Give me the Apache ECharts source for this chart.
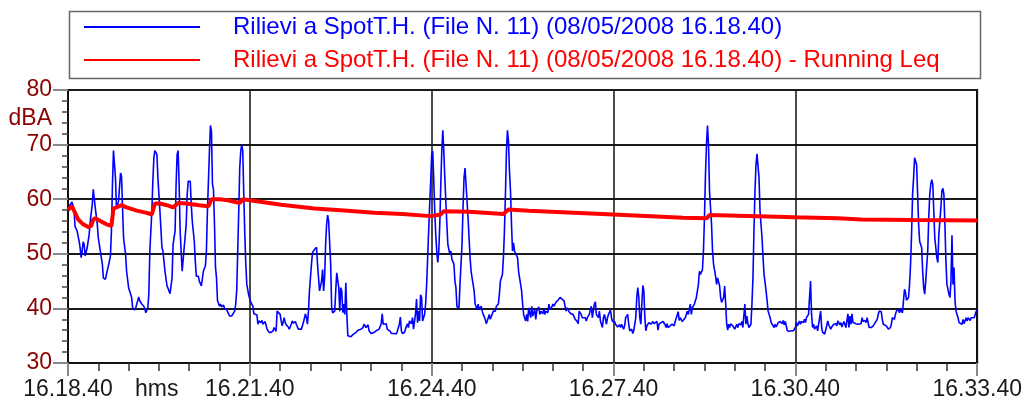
<!DOCTYPE html>
<html>
<head>
<meta charset="utf-8">
<title>Rilievi a SpotT.H.</title>
<script src="https://cdn.jsdelivr.net/npm/echarts@6/dist/echarts.min.js"></script>
<style>
  html, body { margin: 0; padding: 0; background: #fff; }
  #chart { width: 1025px; height: 403px; }
</style>
</head>
<body>
<div id="chart"></div>
<script>
// seconds after 16.18.40
const levelSec = [
  0, 4, 6, 7, 9, 11, 12, 13, 14, 15, 16, 17, 18, 19, 21, 22, 24, 25, 26, 27, 29, 30, 32, 34, 35, 37, 38, 40, 42, 43,
  44, 45, 46, 47, 48, 49, 50, 52, 53, 54, 55, 57, 58, 60, 61, 63, 64, 66, 67, 69, 70, 71, 73, 75, 76, 77, 79, 80, 81, 83,
  84, 85, 86, 88, 89, 91, 93, 94, 96, 98, 99, 101, 103, 104, 106, 107, 108, 109, 110, 111, 113, 114, 115, 117, 118, 119, 121, 122, 123, 125,
  126, 127, 129, 130, 132, 133, 134, 136, 137, 138, 140, 141, 142, 143, 144, 145, 146, 147, 148, 150, 151, 152, 154, 155, 157, 158, 160, 162, 163, 165,
  166, 167, 168, 169, 170, 171, 172, 173, 174, 175, 176, 177, 179, 180, 181, 183, 184, 185, 187, 188, 189, 191, 192, 193, 195, 196, 197, 199, 200, 201,
  203, 204, 206, 207, 208, 210, 211, 212, 214, 215, 216, 218, 219, 221, 222, 223, 225, 226, 228, 229, 231, 232, 233, 235, 236, 237, 238, 239, 241, 242,
  244, 246, 247, 248, 249, 251, 252, 253, 254, 255, 256, 257, 258, 260, 261, 262, 264, 265, 266, 268, 269, 270, 271, 272, 273, 274, 275, 276, 277, 278,
  280, 282, 283, 285, 287, 288, 290, 292, 293, 295, 297, 298, 300, 301, 303, 305, 306, 308, 310, 311, 312, 313, 315, 316, 317, 319, 320, 321, 323, 325,
  326, 328, 329, 330, 331, 333, 334, 336, 337, 338, 340, 341, 342, 344, 345, 346, 347, 348, 349, 350, 351, 352, 353, 354, 355, 356, 357, 358, 359, 360,
  361, 362, 363, 364, 365, 366, 367, 368, 369, 370, 371, 372, 373, 374, 375, 376, 378, 379, 380, 382, 383, 384, 385, 387, 388, 390, 391, 392, 393, 394,
  396, 397, 398, 399, 401, 402, 403, 405, 406, 407, 409, 410, 411, 413, 414, 415, 417, 418, 419, 421, 422, 423, 424, 426, 427, 428, 430, 431, 432, 433,
  434, 435, 436, 437, 438, 439, 440, 441, 442, 443, 445, 446, 447, 449, 450, 451, 453, 454, 455, 456, 458, 459, 460, 462, 463, 464, 466, 467, 468, 470,
  471, 472, 473, 475, 476, 477, 479, 480, 481, 483, 484, 485, 487, 488, 489, 491, 492, 493, 494, 496, 497, 498, 500, 501, 502, 504, 505, 506, 508, 509,
  510, 512, 513, 514, 516, 517, 518, 519, 521, 522, 523, 525, 526, 527, 529, 530, 531, 533, 534, 535, 537, 538, 539, 541, 542, 543, 544, 546, 547, 548,
  550, 551, 552, 554, 555, 556, 558, 559, 560, 562, 563, 564, 565, 566, 567, 568, 569, 570, 571, 572, 573, 575, 576, 577, 579, 580, 581, 583, 584, 585,
  587, 588, 589, 591, 592, 593, 594, 596, 597, 598, 600, 601, 602, 604, 605, 606, 608, 611, 612, 613, 614, 616, 617, 618, 620, 621, 622, 624, 625, 626,
  628, 629, 630, 631, 632, 633, 634, 635, 637, 638, 639, 641, 642, 643, 645, 646, 647, 649, 650, 651, 652, 653, 654, 655, 656, 658, 659, 660, 662, 663,
  664, 666, 667, 668, 670, 671, 672, 673, 674, 676, 677, 678, 679, 680, 681, 682, 683, 684, 685, 687, 688, 689, 691, 692, 693, 695, 696, 697, 699, 700,
  701, 703, 704, 705, 707, 708, 709, 710, 712, 713, 714, 716, 717, 718, 720, 721, 722, 724, 725, 726, 728, 729, 730, 731, 733, 734, 735, 736, 737, 738,
  739, 741, 742, 743, 745, 746, 747, 748, 749, 751, 752, 753, 755, 756, 757, 758, 760, 761, 762, 764, 765, 766, 768, 769, 770, 772, 773, 774, 775, 776,
  777, 778, 780, 781, 782, 783, 785, 786, 787, 789, 790, 791, 793, 794, 795, 797, 798, 799, 801, 802, 803, 805, 806, 807, 808, 810, 811, 812, 814, 815,
  816, 818, 819, 820, 822, 823, 824, 826, 827, 828, 829, 830, 832, 833, 834, 835, 836, 837, 838, 839, 840, 841, 842, 843, 844, 845, 846, 847, 848, 849,
  851, 852, 853, 854, 855, 856, 857, 858, 860, 861, 862, 864, 865, 866, 867, 868, 869, 870, 872, 873, 874, 875, 876, 877, 878, 879, 880, 881, 882, 883,
  885, 886, 887, 889, 890, 891, 893, 894, 895, 897, 898, 899, 900
];
const levelDb = [
  58.4, 59.5, 57.8, 55.0, 54.2, 52.3, 51.1, 49.3, 50.5, 52.2, 51.7, 49.6, 49.9, 51.1, 53.6, 56.0, 59.0, 61.8, 62.1, 58.4, 55.4, 52.9, 50.5, 48.1, 45.6, 45.3, 46.2, 47.8, 49.6, 54.2,
  62.7, 68.9, 69.1, 63.9, 58.4, 58.1, 59.6, 64.8, 64.2, 58.4, 52.9, 49.9, 46.8, 43.8, 43.2, 42.0, 40.1, 39.7, 40.1, 41.4, 42.1, 41.4, 40.8, 40.4, 40.0, 39.2, 40.1, 42.6, 50.5, 57.8,
  63.3, 67.6, 68.9, 68.2, 63.9, 57.8, 51.1, 50.5, 46.8, 44.1, 43.7, 42.7, 45.6, 51.7, 54.2, 62.7, 68.2, 68.9, 62.7, 54.2, 46.8, 46.5, 51.1, 55.4, 60.9, 63.3, 63.3, 59.0, 56.0, 52.3,
  48.7, 45.9, 45.9, 45.0, 44.1, 43.8, 46.8, 47.8, 50.5, 57.8, 68.8, 73.5, 72.4, 62.7, 61.8, 55.4, 47.5, 45.6, 41.4, 40.4, 40.8, 40.3, 40.6, 40.0, 39.8, 39.5, 38.6, 38.6, 38.9, 39.5,
  40.8, 43.2, 50.5, 57.8, 65.7, 68.8, 70.0, 68.8, 60.9, 53.6, 48.1, 44.4, 42.3, 42.0, 41.1, 40.4, 39.0, 39.2, 38.8, 37.1, 37.7, 37.4, 37.8, 37.1, 37.6, 37.0, 36.2, 35.6, 35.5, 35.6,
  35.9, 36.5, 35.8, 39.5, 39.8, 38.9, 37.7, 36.8, 38.3, 37.4, 37.0, 36.6, 36.2, 37.1, 37.7, 37.3, 37.6, 37.1, 36.2, 36.0, 36.2, 36.5, 37.4, 39.0, 38.3, 37.1, 39.5, 43.2, 48.1, 50.2,
  50.8, 51.2, 48.1, 45.6, 43.2, 45.0, 47.1, 43.2, 45.6, 51.7, 55.4, 57.1, 56.0, 48.1, 40.1, 39.2, 39.5, 43.2, 46.5, 43.8, 39.5, 43.8, 43.2, 39.2, 40.8, 38.9, 44.7, 38.9, 35.0, 34.7,
  34.8, 35.2, 35.4, 35.6, 36.0, 35.8, 36.2, 36.5, 37.1, 36.5, 37.0, 35.9, 35.4, 35.3, 35.6, 35.9, 35.9, 36.2, 37.2, 39.0, 37.1, 36.8, 37.2, 36.2, 35.9, 35.8, 35.4, 35.2, 35.4, 35.3,
  35.8, 37.1, 38.4, 35.9, 35.4, 35.6, 36.2, 37.2, 36.5, 37.7, 37.2, 38.3, 36.2, 39.0, 41.7, 37.4, 39.5, 37.7, 42.5, 42.0, 37.7, 38.3, 38.9, 40.8, 44.4, 49.3, 54.2, 59.0, 63.3, 68.2,
  68.8, 63.9, 57.8, 53.6, 50.5, 48.4, 50.5, 55.4, 62.7, 68.8, 72.6, 68.8, 63.9, 59.6, 55.4, 51.7, 49.9, 50.5, 49.0, 48.1, 45.0, 43.8, 40.3, 40.1, 44.4, 51.7, 58.4, 63.9, 65.7, 62.7,
  56.6, 52.9, 49.3, 46.8, 44.4, 43.2, 40.8, 39.8, 40.8, 39.8, 40.4, 39.5, 38.9, 38.0, 37.2, 37.7, 38.9, 38.0, 38.3, 39.5, 39.8, 39.5, 40.4, 40.8, 42.6, 45.0, 46.2, 49.3, 54.2, 60.9,
  68.8, 72.6, 70.6, 65.1, 61.5, 55.4, 50.5, 52.0, 50.5, 50.5, 49.3, 46.8, 45.6, 43.2, 40.8, 38.9, 37.7, 38.9, 37.6, 40.1, 38.3, 40.4, 38.6, 39.8, 38.0, 39.5, 40.3, 38.9, 39.5, 39.0,
  40.0, 38.9, 39.5, 39.2, 40.8, 39.8, 40.3, 40.8, 40.4, 41.1, 41.4, 41.5, 42.0, 42.0, 41.7, 41.4, 40.4, 39.5, 40.1, 39.4, 39.7, 39.0, 38.9, 38.6, 38.0, 37.6, 37.2, 39.5, 38.9, 38.3,
  38.0, 38.3, 37.7, 38.3, 38.9, 39.7, 40.4, 38.3, 40.8, 41.2, 38.9, 38.3, 39.5, 37.7, 36.5, 38.3, 38.9, 37.1, 38.3, 38.9, 39.7, 38.3, 37.6, 37.6, 37.1, 37.2, 36.6, 37.0, 36.5, 37.1,
  36.2, 36.8, 38.3, 38.9, 37.1, 35.9, 36.2, 35.4, 35.9, 38.3, 42.0, 43.8, 42.0, 38.3, 37.1, 40.8, 44.2, 43.2, 38.3, 35.9, 36.8, 37.4, 37.7, 37.1, 37.6, 37.2, 37.0, 37.6, 36.0, 37.1,
  37.4, 37.1, 37.6, 37.0, 36.5, 37.2, 36.5, 36.8, 36.5, 37.1, 36.8, 37.6, 37.7, 39.4, 37.8, 38.3, 37.6, 38.3, 38.9, 39.5, 38.9, 40.8, 38.9, 40.1, 40.8, 41.4, 42.0, 44.4, 46.8, 46.2,
  47.1, 50.5, 56.6, 64.5, 70.0, 73.5, 70.0, 61.5, 55.4, 50.5, 48.1, 45.9, 44.4, 45.6, 44.1, 42.0, 41.1, 42.0, 44.1, 40.8, 37.1, 36.0, 37.1, 36.5, 37.2, 36.8, 37.1, 36.2, 37.1, 36.5,
  37.2, 37.0, 37.6, 36.5, 40.8, 37.1, 38.6, 37.2, 36.5, 37.1, 40.8, 45.6, 54.2, 61.5, 66.3, 68.3, 68.2, 63.9, 57.8, 52.9, 49.3, 46.2, 43.2, 41.4, 39.5, 38.3, 37.4, 37.1, 36.5, 37.1,
  36.6, 37.4, 37.1, 37.6, 37.2, 37.8, 37.0, 37.6, 35.9, 35.6, 35.8, 35.9, 35.6, 35.9, 36.5, 37.4, 36.8, 37.7, 37.1, 37.6, 37.4, 38.0, 37.4, 38.3, 38.9, 42.0, 45.0, 38.9, 36.5, 37.1,
  36.2, 36.8, 35.9, 37.1, 39.5, 36.5, 35.6, 35.9, 35.3, 36.8, 37.7, 37.0, 36.2, 36.6, 36.5, 37.1, 37.2, 36.8, 37.7, 37.0, 37.4, 36.6, 37.6, 37.1, 36.5, 39.0, 36.5, 38.6, 37.1, 39.0,
  37.4, 37.1, 37.2, 37.4, 37.1, 37.4, 37.2, 38.3, 37.6, 37.8, 37.4, 38.3, 36.5, 36.2, 36.5, 36.8, 37.1, 37.4, 38.0, 38.9, 39.5, 39.4, 38.0, 37.1, 37.0, 36.8, 36.5, 36.2, 36.5, 37.1,
  38.3, 38.0, 38.9, 39.5, 39.8, 39.2, 39.8, 39.2, 41.4, 43.5, 42.9, 41.5, 42.0, 44.4, 48.1, 53.6, 60.9, 63.9, 67.6, 67.7, 66.3, 60.9, 55.4, 52.3, 51.7, 51.1, 46.8, 43.8, 42.6, 45.0,
  50.5, 56.6, 60.9, 62.7, 63.6, 62.7, 57.8, 52.9, 49.3, 48.4, 53.6, 58.4, 61.5, 62.0, 60.9, 55.4, 48.7, 44.4, 42.6, 42.0, 45.0, 53.4, 44.4, 47.5, 41.4, 39.5, 38.9, 38.3, 37.4, 37.6,
  37.1, 38.0, 37.2, 38.3, 37.7, 38.3, 37.8, 38.3, 38.0, 38.3, 38.6, 39.5, 39.5
];
// running Leq
const leqSec = [0, 4, 7, 10, 15, 20, 23, 25, 27, 32, 38, 43, 45, 48, 53, 58, 68, 78, 83, 86, 91, 98, 104, 109, 117, 130, 139, 142, 150, 158,
  170, 173, 180, 211, 244, 277, 303, 331, 359, 369, 372, 397, 431, 436, 456, 540, 609, 632, 635, 683, 719, 762, 785, 837, 900];
const leqDb = [58.1, 58.7, 57.5, 56.3, 55.4, 54.9, 55.1, 56.3, 56.5, 56.0, 55.4, 55.1, 58.3, 58.5, 58.9, 58.5, 57.9, 57.5, 57.2, 59.2, 59.2, 58.9, 58.5, 59.3, 59.2, 58.9, 58.7, 60.0, 60.0, 59.8,
  59.3, 60.0, 59.8, 59.0, 58.3, 57.9, 57.5, 57.3, 56.9, 57.2, 57.8, 57.7, 57.3, 58.1, 57.9, 57.2, 56.6, 56.5, 57.1, 56.9, 56.7, 56.5, 56.3, 56.2, 56.1];

const seriesNames = [
  'Rilievi a SpotT.H. (File N. 11) (08/05/2008 16.18.40)',
  'Rilievi a SpotT.H. (File N. 11) (08/05/2008 16.18.40) - Running Leq'
];
const startSec = 16 * 3600 + 18 * 60 + 40;

const font = 'Liberation Sans, Arial, sans-serif';
const pad = n => (n < 10 ? '0' : '') + n;
const clock = v => {
  const s = startSec + v;
  return Math.floor(s / 3600) + '.' + pad(Math.floor((s % 3600) / 60)) + '.' + pad(s % 60);
};

const chart = echarts.init(document.getElementById('chart'));

const option = {
  backgroundColor: '#fff',
  animation: false,
  textStyle: { fontFamily: font },
  grid: {
    left: 68, right: 45, top: 90, bottom: 40,
    show: true, borderColor: '#808080', borderWidth: 2
  },
  legend: {
    orient: 'vertical',
    left: 83, top: 15,
    itemWidth: 116, itemHeight: 12, itemGap: 9,
    padding: 0,
    itemStyle: { opacity: 0 },
    textStyle: { fontSize: 24, lineHeight: 24, padding: [0, 0, 0, 28] },
    data: [
      { name: seriesNames[0], textStyle: { color: '#0000ff' } },
      { name: seriesNames[1], textStyle: { color: '#ff0000' } }
    ]
  },
  xAxis: {
    type: 'value', min: 0, max: 900, interval: 180,
    axisLine: { lineStyle: { color: '#111', width: 2 } },
    axisTick: { length: 13, lineStyle: { color: '#888', width: 2 } },
    minorTick: { show: true, splitNumber: 6, length: 8, lineStyle: { color: '#333', width: 1.5 } },
    splitLine: { lineStyle: { color: '#111', width: 1.5 } },
    axisLabel: { formatter: clock, color: '#1a1a1a', fontSize: 23, margin: 15, showMinLabel: true, showMaxLabel: true }
  },
  yAxis: [
    {
      type: 'value', min: 30, max: 80, interval: 10,
      axisLine: { show: true, lineStyle: { color: '#111', width: 2 } },
      axisTick: { show: true, length: 15, lineStyle: { color: '#888', width: 2 } },
      minorTick: { show: true, splitNumber: 5, length: 6, lineStyle: { color: '#444', width: 1.5 } },
      splitLine: { lineStyle: { color: '#1a1a1a', width: 2 } },
      axisLabel: { color: '#8b0000', fontSize: 23, margin: 16 }
    },
    {
      // right frame edge only
      type: 'value', min: 30, max: 80, position: 'right',
      axisLine: { show: true, lineStyle: { color: '#111', width: 2 } },
      axisTick: { show: false }, axisLabel: { show: false }, splitLine: { show: false }
    }
  ],
  graphic: [
    { type: 'rect', left: 67, top: 9, shape: { width: 911, height: 67 }, style: { fill: 'none', stroke: '#666', lineWidth: 1.5 }, silent: true, z: -1 },
    { type: 'text', right: 1025 - 52, top: 107, style: { text: 'dBA', fill: '#8b0000', font: '23px ' + font, textAlign: 'right' } },
    { type: 'text', left: 135, top: 378, style: { text: 'hms', fill: '#1a1a1a', font: '23px ' + font } }
  ],
  series: [
    {
      name: seriesNames[0], type: 'line', symbol: 'none',
      lineStyle: { color: '#0000ff', width: 1.6 }, itemStyle: { color: '#0000ff' },
      data: levelSec.map((t, i) => [t, levelDb[i]])
    },
    {
      name: seriesNames[1], type: 'line', symbol: 'none',
      lineStyle: { color: '#ff0000', width: 4 }, itemStyle: { color: '#ff0000' },
      data: leqSec.map((t, i) => [t, leqDb[i]])
    }
  ]
};

chart.setOption(option);
</script>
</body>
</html>
